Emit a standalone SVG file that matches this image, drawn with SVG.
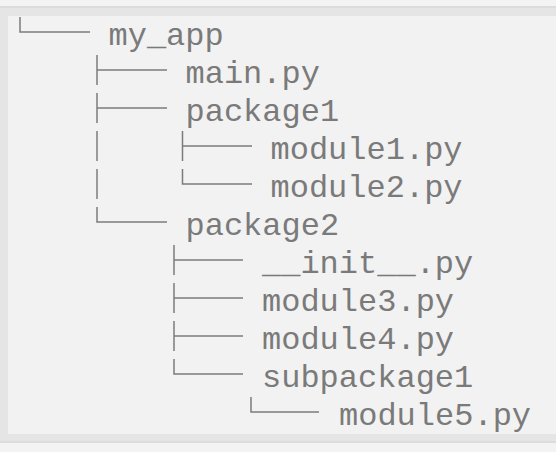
<svg xmlns="http://www.w3.org/2000/svg" width="556" height="452" viewBox="0 0 556 452">
<style>
  .t { font-family: "Liberation Mono", "Courier New", monospace; font-size: 32px; fill: #7a7a7a; }
  .c { fill: none; stroke: #7c7c7c; stroke-width: 1.5; }
</style>
<rect x="0" y="0" width="556" height="452" fill="#f3f3f3"/>
<rect x="0" y="6" width="556" height="2" fill="#dcdcdc"/>
<rect x="0" y="8" width="556" height="8" fill="#e5e5e5"/>
<rect x="0" y="8" width="8" height="433" fill="#e5e5e5"/>
<rect x="0" y="434" width="556" height="7" fill="#e5e5e5"/>
<rect x="0" y="441" width="556" height="2" fill="#dcdcdc"/>
<rect x="8" y="16" width="548" height="418" fill="#f2f2f2"/>
<g id="connectors">
  <path class="c" d="M20,17 V32 H90"/>
  <path class="c" d="M97,55 V85 M97,70 H167"/>
  <path class="c" d="M97,93 V123 M97,108 H167"/>
  <path class="c" d="M97,131 V161"/>
  <path class="c" d="M182.5,131 V161 M182.5,146 H252"/>
  <path class="c" d="M97,169 V199"/>
  <path class="c" d="M182.5,169 V184 H252"/>
  <path class="c" d="M97,207 V222 H167"/>
  <path class="c" d="M174,245 V275 M174,260 H243"/>
  <path class="c" d="M174,283 V313 M174,298 H243"/>
  <path class="c" d="M174,321 V351 M174,336 H243"/>
  <path class="c" d="M174,359 V374 H243"/>
  <path class="c" d="M251,397 V412 H319"/>
</g>
<g id="my_app"><text class="t" x="108.5" y="45">my_app</text></g>
<g id="main_py"><text class="t" x="185.5" y="83">main.py</text></g>
<g id="package1"><text class="t" x="185.5" y="121">package1</text></g>
<g id="module1_py"><text class="t" x="270.5" y="159">module1.py</text></g>
<g id="module2_py"><text class="t" x="270.5" y="197">module2.py</text></g>
<g id="package2"><text class="t" x="185.5" y="235">package2</text></g>
<g id="init_py"><text class="t" x="262" y="273">__init__.py</text></g>
<g id="module3_py"><text class="t" x="262" y="311">module3.py</text></g>
<g id="module4_py"><text class="t" x="262" y="349">module4.py</text></g>
<g id="subpackage1"><text class="t" x="262" y="387">subpackage1</text></g>
<g id="module5_py"><text class="t" x="339" y="425">module5.py</text></g>
</svg>
